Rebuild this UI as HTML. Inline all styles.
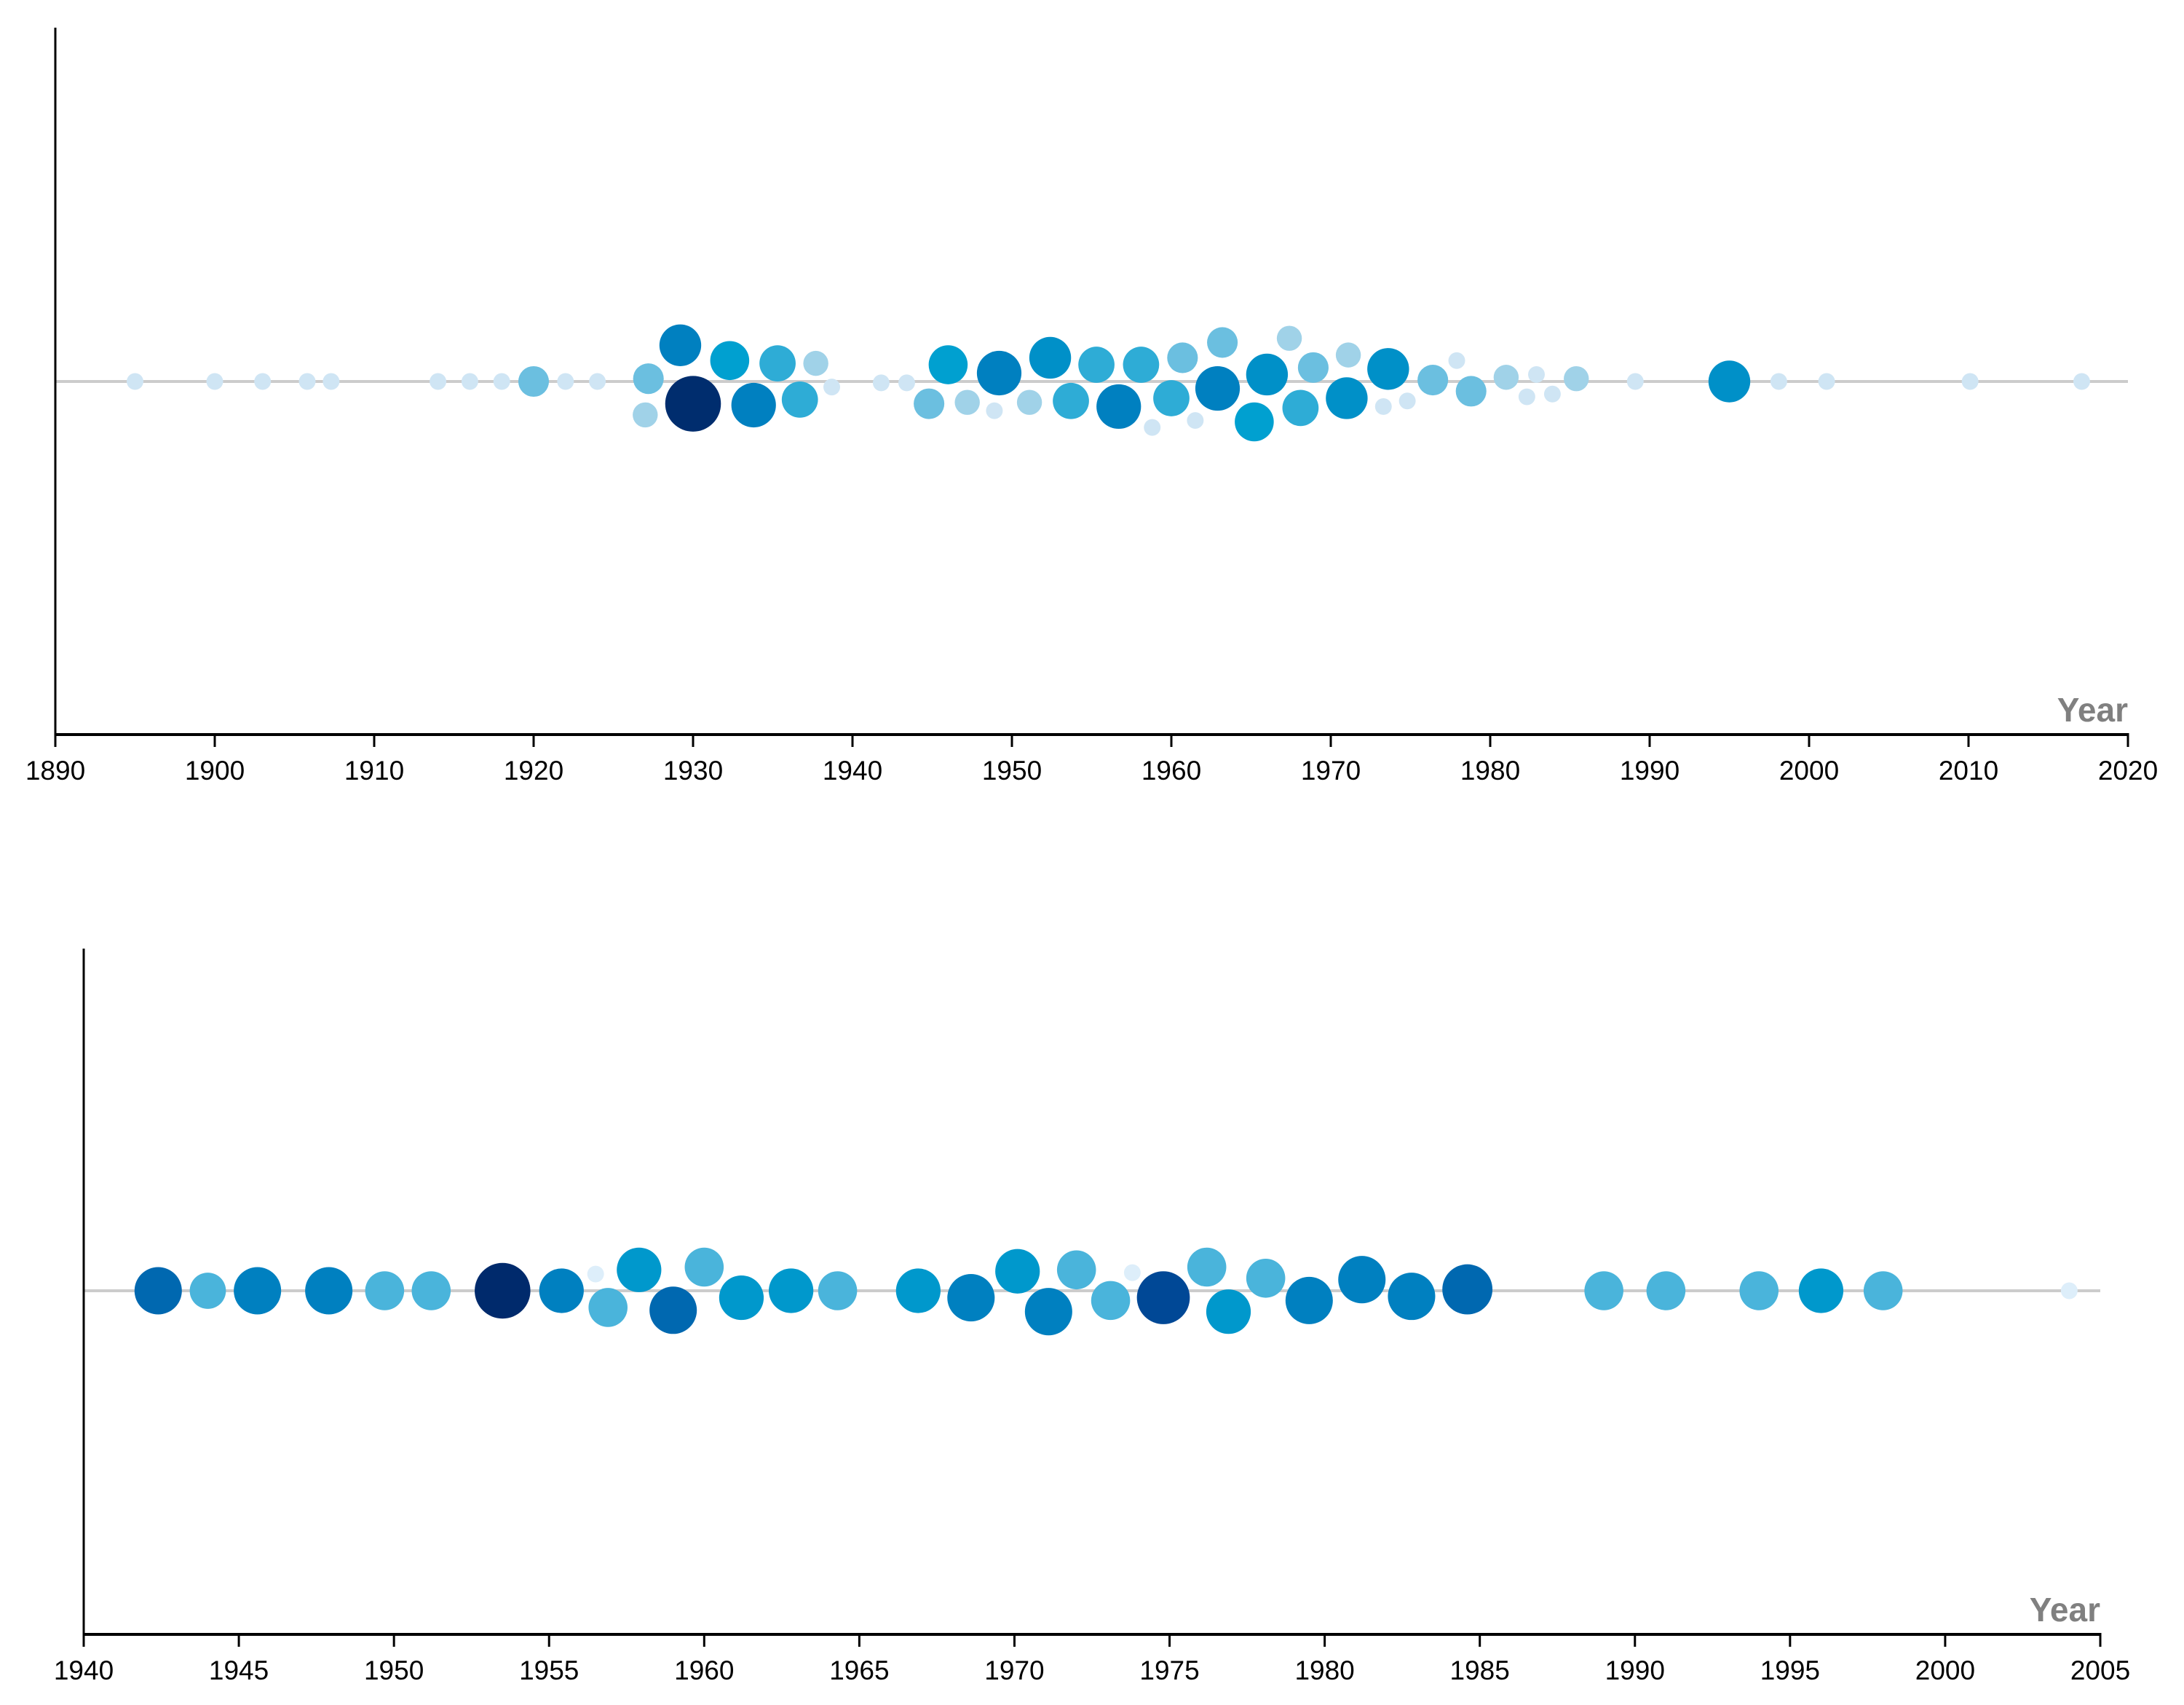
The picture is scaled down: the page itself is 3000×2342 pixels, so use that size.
<!DOCTYPE html>
<html><head><meta charset="utf-8"><style>
html,body{margin:0;padding:0;background:#fff;}
svg{display:block;}
text{font-family:"Liberation Sans",sans-serif;}
</style></head><body>
<svg id="chart" width="3000" height="2342" viewBox="0 0 3000 2342" xmlns="http://www.w3.org/2000/svg"></svg>
<script>
// ---- Top chart data ----
const topYears = [1895,1900,1903,1905.8,1907.3,1914,1916,1918,1920,1922,1924,1927.2,1927,1929.2,1930,1932.3,1933.8,1935.3,1936.7,1937.7,1938.7,1941.8,1943.4,1944.8,1946,1947.2,1948.9,1949.2,1951.1,1952.4,1953.7,1955.3,1956.7,1958.1,1958.8,1960,1960.7,1961.5,1962.9,1963.2,1965.2,1966,1967.4,1968.1,1968.9,1971,1971.1,1973.3,1973.6,1974.8,1976.4,1977.9,1978.8,1981,1982.3,1982.9,1983.9,1985.4,1989.1,1995,1998.1,2001.1,2010.1,2017.1];
const topOffsets = [0,0,0,0,0,0,0,0,0,0,0,-2,24,-26,16,-15,17,-13,13,-13,4,1,1,16,-12,15,21,-6,15,-17,14,-12,18,-12,33,12,-17,28,5,-28,29,-5,-31,19,-10,12,-19,18,-9,14,-1,-15,7,-3,11,-5,9,-2,0,0,0,0,0,0];
const topSizes = [6,6,6,6,6,6,6,6,11,6,6,11,9,15,20,14,16,13,13,9,6,6,6,11,14,9,6,16,9,15,13,13,16,13,6,13,11,6,16,11,14,15,9,13,11,15,9,6,15,6,11,6,11,9,6,6,6,9,6,15,6,6,6,6];
const topColors = ["#cfe5f4","#cfe5f4","#cfe5f4","#cfe5f4","#cfe5f4","#cfe5f4","#cfe5f4","#cfe5f4","#6bbfe0","#cfe5f4","#cfe5f4","#6bbfe0","#a0d2e8","#0080c0","#002d6e","#00a0d0","#0080c0","#2eacd6","#2eacd6","#a0d2e8","#cfe5f4","#cfe5f4","#cfe5f4","#6bbfe0","#00a0d0","#a0d2e8","#cfe5f4","#0080c0","#a0d2e8","#0090c8","#2eacd6","#2eacd6","#0080c0","#2eacd6","#cfe5f4","#2eacd6","#6bbfe0","#cfe5f4","#0080c0","#6bbfe0","#00a0d0","#0090c8","#a0d2e8","#2eacd6","#6bbfe0","#0090c8","#a0d2e8","#cfe5f4","#0090c8","#cfe5f4","#6bbfe0","#cfe5f4","#6bbfe0","#a0d2e8","#cfe5f4","#cfe5f4","#cfe5f4","#a0d2e8","#cfe5f4","#0090c8","#cfe5f4","#cfe5f4","#cfe5f4","#cfe5f4"];
const topTicks = [1890,1900,1910,1920,1930,1940,1950,1960,1970,1980,1990,2000,2010,2020];

// ---- Bottom chart data ----
const botYears = [1942.4,1944,1945.6,1947.9,1949.7,1951.2,1953.5,1955.4,1956.5,1956.9,1957.9,1959,1960,1961.2,1962.8,1964.3,1966.9,1968.6,1970.1,1971.1,1972,1973.1,1973.8,1974.8,1976.2,1976.9,1978.1,1979.5,1981.2,1982.8,1984.6,1989,1991,1994,1996,1998,2004];
const botOffsets = [0,0,0,0,0,0,0,0,-12,12,-15,14,-17,5,0,0,0,5,-14,15,-15,7,-13,5,-17,15,-9,7,-8,4,-1,0,0,0,0,0,0];
const botSizes = [17,13,17,17,14,14,20,16,6,14,16,17,14,16,16,14,16,17,16,17,14,14,6,19,14,16,14,17,17,17,18,14,14,14,16,14,6];
const botColors = ["#0068b0","#4ab4db","#0080c0","#0080c0","#4ab4db","#4ab4db","#002a6c","#0080c0","#ddeefa","#4ab4db","#0098cc","#0068b0","#4ab4db","#0098cc","#0098cc","#4ab4db","#0098cc","#0080c0","#0098cc","#0080c0","#4ab4db","#4ab4db","#ddeefa","#004896","#4ab4db","#0098cc","#4ab4db","#0080c0","#0080c0","#0080c0","#0068b0","#4ab4db","#4ab4db","#4ab4db","#0098cc","#4ab4db","#ddeefa"];
const botTicks = [1940,1945,1950,1955,1960,1965,1970,1975,1980,1985,1990,1995,2000,2005];

const NS = "http://www.w3.org/2000/svg";
const svg = document.getElementById('chart');
const S = 1.913;
function mk(tag, attrs, parent){const e=document.createElementNS(NS,tag);for(const k in attrs)e.setAttribute(k,attrs[k]);(parent||svg).appendChild(e);return e;}

function drawChart(cfg){
  const g = mk('g',{});
  
  
  const x = v => cfg.x0 + (v - cfg.d0)/(cfg.d1 - cfg.d0)*(cfg.x1 - cfg.x0);
  const y = off => cfg.base + off*S;
  const bl = mk('line',{x1:cfg.x0,x2:cfg.x1,y1:cfg.base,y2:cfg.base,stroke:'#cccccc','stroke-width':4},g);
  
  
  const ya = mk('line',{x1:cfg.x0,x2:cfg.x0,y1:cfg.top,y2:cfg.axisY,stroke:'#000','stroke-width':3},g);
  
  
  const xa = mk('line',{x1:cfg.x0-1.5,x2:cfg.x1+1.5,y1:cfg.axisY,y2:cfg.axisY,stroke:'#000','stroke-width':4},g);
  
  
  cfg.ticks.forEach(t=>{
    const tl = mk('line',{x1:x(t),x2:x(t),y1:cfg.axisY,y2:cfg.axisY+17,stroke:'#000','stroke-width':3},g);
    
    
    const tx = mk('text',{x:x(t),y:cfg.axisY+62,'text-anchor':'middle','font-size':37,fill:'#000'},g);
    tx.textContent = t;
    
    
  });
  const yt = mk('text',{x:cfg.x1,y:cfg.axisY-18,'text-anchor':'end','font-size':46,'font-weight':'bold',fill:'#808080'},g);
  yt.textContent = 'Year';
  
  
  cfg.years.forEach((yr,i)=>{
    const c = mk('circle',{cx:x(yr),cy:y(cfg.offs[i]),r:cfg.sizes[i]*S,fill:cfg.colors[i]},g);
    
    
  });
}

drawChart({name:'top-beeswarm-chart',x0:76,x1:2923,d0:1890,d1:2020,base:524,top:38,axisY:1009,
  ticks:topTicks,years:topYears,offs:topOffsets,sizes:topSizes,colors:topColors});
drawChart({name:'bottom-beeswarm-chart',x0:115,x1:2885,d0:1940,d1:2005,base:1773,top:1303,axisY:2245,
  ticks:botTicks,years:botYears,offs:botOffsets,sizes:botSizes,colors:botColors});
</script>
</body></html>
